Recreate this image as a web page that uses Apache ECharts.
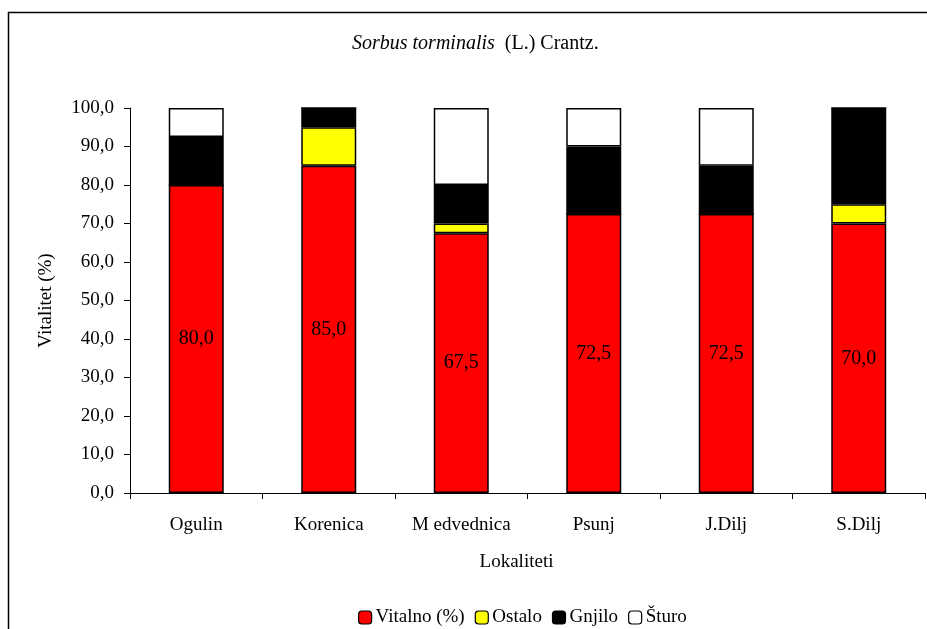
<!DOCTYPE html>
<html><head><meta charset="utf-8">
<script src="https://cdn.jsdelivr.net/npm/echarts@6/dist/echarts.min.js"></script>
<style>html,body{margin:0;padding:0;background:#fff}#c{width:927px;height:629px}</style>
</head><body><div id="c"></div>
<script>
const categories = ['Ogulin','Korenica','M edvednica','Psunj','J.Dilj','S.Dilj'];
const vitalno = [80.0, 85.0, 67.5, 72.5, 72.5, 70.0];
const ostalo  = [0, 10.0, 2.5, 0, 0, 5.0];
const gnjilo  = [12.5, 5.0, 10.0, 17.5, 12.5, 25.0];
const sturo   = [7.5, 0, 20.0, 10.0, 15.0, 0];
const yTicks = [0,10,20,30,40,50,60,70,80,90,100];

const F = '"Liberation Serif","Times New Roman",serif';
const FS = 19;
const chart = echarts.init(document.getElementById('c'), null, {renderer:'canvas'});
function mk(name, data, color, label){
  return {
    name, type:'bar', stack:'s', data, barWidth:'41.5%',
    itemStyle:{color, borderColor:'#000', borderWidth:1.5},
    label: label ? {show:true, position:'inside', color:'#000', fontFamily:F, fontSize:20,
      formatter:p=>p.value.toFixed(1).replace('.',',')} : {show:false},
    emphasis:{disabled:true}
  };
}
chart.setOption({
  animation:false,
  backgroundColor:'#fff',
  graphic:[{type:'rect', shape:{x:8.5,y:12.5,width:940,height:640}, style:{fill:'none',stroke:'#000',lineWidth:1.5}, silent:true},
    {type:'text', left:352, top:34, style:{rich:{i:{fontStyle:'italic',fontFamily:F,fontSize:20,fill:'#000'},n:{fontFamily:F,fontSize:20,fill:'#000'}}, text:'{i|Sorbus torminalis}{n|  (L.) Crantz.}', fontFamily:F}, silent:true}],
  grid:{left:130, right:2, top:108, bottom:136, containLabel:false},
  legend:{top:603, left:353, itemWidth:13, itemHeight:13, itemGap:10,
    textStyle:{fontFamily:F, fontSize:FS, color:'#000', padding:[0,0,0,-1]},
    data:[{name:'Vitalno (%)'},{name:'Ostalo'},{name:'Gnjilo'},{name:'Šturo'}],
    itemStyle:{borderColor:'#000', borderWidth:1.2}},
  xAxis:{type:'category', data:categories, boundaryGap:true,
    name:'Lokaliteti', nameLocation:'middle', nameGap:60,
    nameTextStyle:{fontFamily:F, fontSize:FS, color:'#000', padding:[0,0,0,-22]},
    axisLine:{lineStyle:{color:'#000', width:1}},
    axisTick:{show:true, inside:false, length:6, alignWithLabel:false, lineStyle:{color:'#000'}},
    axisLabel:{fontFamily:F, fontSize:FS, color:'#000', margin:23}},
  yAxis:{type:'value', min:0, max:100, interval:10,
    name:'Vitalitet (%)', nameLocation:'middle', nameGap:74,
    nameTextStyle:{fontFamily:F, fontSize:FS, color:'#000'},
    axisLine:{show:true, lineStyle:{color:'#000', width:1}},
    axisTick:{show:true, length:6, lineStyle:{color:'#000'}},
    splitLine:{show:false},
    axisLabel:{fontFamily:F, fontSize:FS, color:'#000', margin:16,
      formatter:v=>yTicks.includes(v)? v.toFixed(1).replace('.',','):''}},
  series:[
    mk('Vitalno (%)', vitalno, '#ff0000', true),
    mk('Ostalo', ostalo, '#ffff00'),
    mk('Gnjilo', gnjilo, '#000000'),
    mk('Šturo', sturo, '#ffffff')
  ]
});
</script></body></html>
